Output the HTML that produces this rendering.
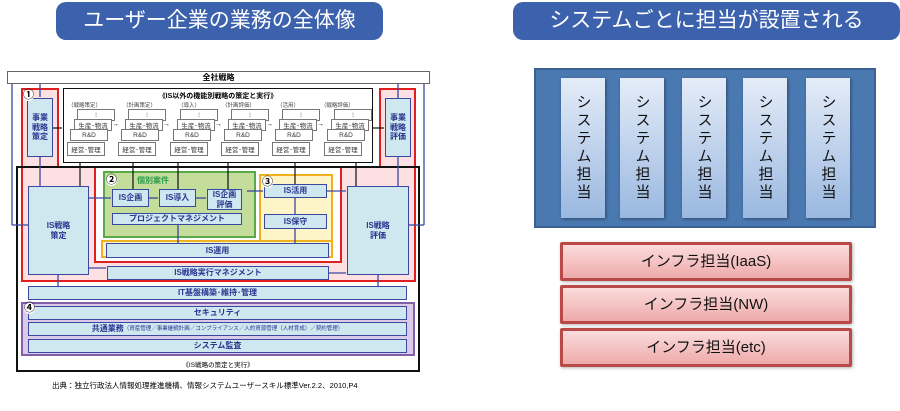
<!DOCTYPE html>
<html><head><meta charset="utf-8"><style>
*{margin:0;padding:0;box-sizing:border-box}
body{width:900px;height:411px;background:#fff;position:relative;overflow:hidden;font-family:"Liberation Sans","Noto Sans CJK JP",sans-serif}
.a{position:absolute}
.pill{background:#3d62ad;color:#fff;border-radius:10px;font-size:21px;text-align:center;line-height:38px}
.lb{position:absolute;background:#cfe8ef;border:1.5px solid #3a48a0;color:#2a3590;font-size:8px;font-weight:bold;display:flex;align-items:center;justify-content:center;text-align:center;line-height:1.2}
.sb{position:absolute;background:#fff;border:1px solid #777;font-size:6.5px;color:#333;display:flex;align-items:center;justify-content:center}
.col{position:absolute;top:78px;height:140px;width:44px;background:linear-gradient(#e4ecf8,#9ab8e0);box-shadow:1px 1px 3px rgba(0,0,0,.4);font-size:15px;color:#111;writing-mode:vertical-rl;text-orientation:upright;display:flex;align-items:center;justify-content:center;letter-spacing:3px}
.inf{position:absolute;left:560px;width:292px;height:39px;border:3px solid #b94a48;background:linear-gradient(#fbdcdc,#eeaaaa);border-radius:2px;font-size:15px;text-align:center;line-height:33px;color:#111;box-shadow:1px 1px 3px rgba(0,0,0,.3)}
.num{position:absolute;font-size:11px;font-weight:bold;z-index:5;background:#fff;border-radius:50%;line-height:11px}
</style></head><body>
<div class="a pill" style="left:56px;top:2px;width:327px;height:38px">ユーザー企業の業務の全体像</div>
<div class="a pill" style="left:513px;top:2px;width:387px;height:38px">システムごとに担当が設置される</div>

<div class="a" style="left:7px;top:71px;width:423px;height:13px;border:1px solid #666;font-size:8px;font-weight:bold;text-align:center;line-height:11px">全社戦略</div>
<div class="a" style="left:21px;top:88px;width:38px;height:194px;background:#fde0e2;border:2px solid #e02020"></div>
<div class="a" style="left:379px;top:88px;width:37px;height:194px;background:#fde0e2;border:2px solid #e02020"></div>
<div class="a" style="left:21px;top:166px;width:395px;height:116px;background:#fde0e2;border:2px solid #e02020"></div>
<div class="a" style="left:94px;top:166px;width:248px;height:97px;background:#fff;border:2px solid #e02020"></div>
<div class="a" style="left:16px;top:166px;width:404px;height:206px;border:2px solid #111"></div>
<div class="a" style="left:63px;top:88px;width:310px;height:75px;border:1.5px solid #111;background:#fff"></div>
<div class="a" style="left:63px;top:91px;width:310px;font-size:7px;font-weight:bold;text-align:center">《IS以外の機能別戦略の策定と実行》</div>

<div id="stacks"></div>
<div class="a" style="left:68px;top:101px;font-size:5.5px;color:#444;width:300px;display:flex;justify-content:space-between;padding-right:14px"><span>（戦略策定）</span><span>（計画策定）</span><span>（導入）</span><span>（計画評価）</span><span>（活用）</span><span>（戦略評価）</span></div>

<div class="lb" style="left:27px;top:98px;width:26px;height:59px">事業<br>戦略<br>策定</div>
<div class="lb" style="left:385px;top:98px;width:26px;height:59px">事業<br>戦略<br>評価</div>

<div class="a" style="left:103px;top:171px;width:153px;height:67px;background:#c4dd9a;border:2px solid #5aa848"></div>
<div class="a" style="left:137px;top:175px;font-size:8px;font-weight:bold;color:#2a9a4a">個別案件</div>
<div class="a" style="left:259px;top:174px;width:74px;height:84px;background:#fdf5c8;border:2px solid #f0b020"></div>
<div class="a" style="left:101px;top:240px;width:232px;height:18px;background:#fdf5c8;border:2px solid #f0b020"></div>

<div class="lb" style="left:112px;top:189px;width:37px;height:18px">IS企画</div>
<div class="lb" style="left:159px;top:189px;width:37px;height:18px">IS導入</div>
<div class="lb" style="left:207px;top:189px;width:35px;height:21px">IS企画<br>評価</div>
<div class="lb" style="left:112px;top:213px;width:130px;height:12px">プロジェクトマネジメント</div>
<div class="lb" style="left:264px;top:184px;width:63px;height:14px">IS活用</div>
<div class="lb" style="left:264px;top:214px;width:63px;height:15px">IS保守</div>
<div class="lb" style="left:106px;top:243px;width:223px;height:15px">IS運用</div>
<div class="lb" style="left:28px;top:186px;width:61px;height:89px">IS戦略<br>策定</div>
<div class="lb" style="left:347px;top:186px;width:62px;height:89px">IS戦略<br>評価</div>
<div class="lb" style="left:107px;top:266px;width:222px;height:14px">IS戦略実行マネジメント</div>
<div class="lb" style="left:28px;top:286px;width:379px;height:14px">IT基盤構築･維持･管理</div>
<div class="a" style="left:21px;top:302px;width:394px;height:54px;background:#dccbe8;border:2px solid #8060a8"></div>
<div class="lb" style="left:28px;top:306px;width:379px;height:14px">セキュリティ</div>
<div class="lb" style="left:28px;top:322px;width:379px;height:14px">共通業務 <span style="font-size:5.5px;font-weight:normal">（資産管理／事業継続計画／コンプライアンス／人的資源管理（人材育成）／契約管理）</span></div>
<div class="lb" style="left:28px;top:339px;width:379px;height:14px">システム監査</div>
<div class="a" style="left:16px;top:359px;width:404px;font-size:6.5px;text-align:center">《IS戦略の策定と実行》</div>
<div class="a" style="left:52px;top:380px;font-size:7.5px;white-space:nowrap">出典：独立行政法人情報処理推進機構、情報システムユーザースキル標準Ver.2.2、2010,P4</div>

<div class="num" style="left:23px;top:90px">①</div>
<div class="num" style="left:106px;top:175px">②</div>
<div class="num" style="left:262px;top:177px">③</div>
<div class="num" style="left:24px;top:303px">④</div>

<svg class="a" style="left:0;top:0;z-index:4" width="450" height="411">
<g stroke="#3a48a0" stroke-width="1.3" fill="none">
<line x1="40" y1="84" x2="40" y2="97"/><line x1="12" y1="84" x2="12" y2="225"/><line x1="12" y1="225" x2="28" y2="225"/>
<line x1="398" y1="98" x2="398" y2="84"/><line x1="424" y1="225" x2="424" y2="84"/><line x1="409" y1="225" x2="424" y2="225"/>
<line x1="40" y1="157" x2="40" y2="186"/><line x1="398" y1="157" x2="398" y2="186"/>
<line x1="89" y1="198" x2="111" y2="198"/><line x1="149" y1="198" x2="158" y2="198"/><line x1="196" y1="198" x2="206" y2="198"/>
<line x1="247" y1="191" x2="263" y2="191"/><line x1="327" y1="191" x2="346" y2="191"/>
<line x1="295" y1="198" x2="295" y2="214"/><line x1="295" y1="229" x2="295" y2="243"/>
<line x1="178" y1="225" x2="178" y2="243"/>
<line x1="89" y1="268" x2="106" y2="268"/><line x1="329" y1="273" x2="346" y2="273"/>
<line x1="58" y1="275" x2="58" y2="286"/><line x1="378" y1="286" x2="378" y2="275"/>
</g>
<g stroke="#111" stroke-width="1.2">
<line x1="53" y1="128" x2="62" y2="128"/><line x1="373" y1="128" x2="384" y2="128"/>
<line x1="80" y1="163" x2="80" y2="186"/><line x1="133" y1="163" x2="133" y2="189"/><line x1="178" y1="163" x2="178" y2="189"/><line x1="228" y1="163" x2="228" y2="189"/><line x1="295" y1="163" x2="295" y2="184"/><line x1="356" y1="163" x2="356" y2="186"/>
</g>
</svg>
<script>
var xs=[67,118,170,221,272,324],h='';
xs.forEach(function(x,i){
h+='<div class="sb" style="left:'+(x+10)+'px;top:109px;width:38px;height:12px">⁝</div>';
h+='<div class="sb" style="left:'+(x+7)+'px;top:119px;width:38px;height:12px">生産･物流</div>';
h+='<div class="sb" style="left:'+(x+3)+'px;top:129px;width:38px;height:12px">R&amp;D</div>';
h+='<div class="sb" style="left:'+x+'px;top:142px;width:38px;height:14px">経営･管理</div>';
if(i<5)h+='<div class="a" style="left:'+(x+45)+'px;top:121px;font-size:7px">→</div>';
});
document.getElementById('stacks').outerHTML=h;
</script>

<div class="a" style="left:534px;top:68px;width:342px;height:160px;background:#4a78b0;border:2px solid #3d6090"></div>
<div class="col" style="left:561px">システム担当</div>
<div class="col" style="left:620px">システム担当</div>
<div class="col" style="left:682px">システム担当</div>
<div class="col" style="left:743px">システム担当</div>
<div class="col" style="left:806px">システム担当</div>
<div class="inf" style="top:242px">インフラ担当(IaaS)</div>
<div class="inf" style="top:285px">インフラ担当(NW)</div>
<div class="inf" style="top:328px">インフラ担当(etc)</div>
</body></html>
